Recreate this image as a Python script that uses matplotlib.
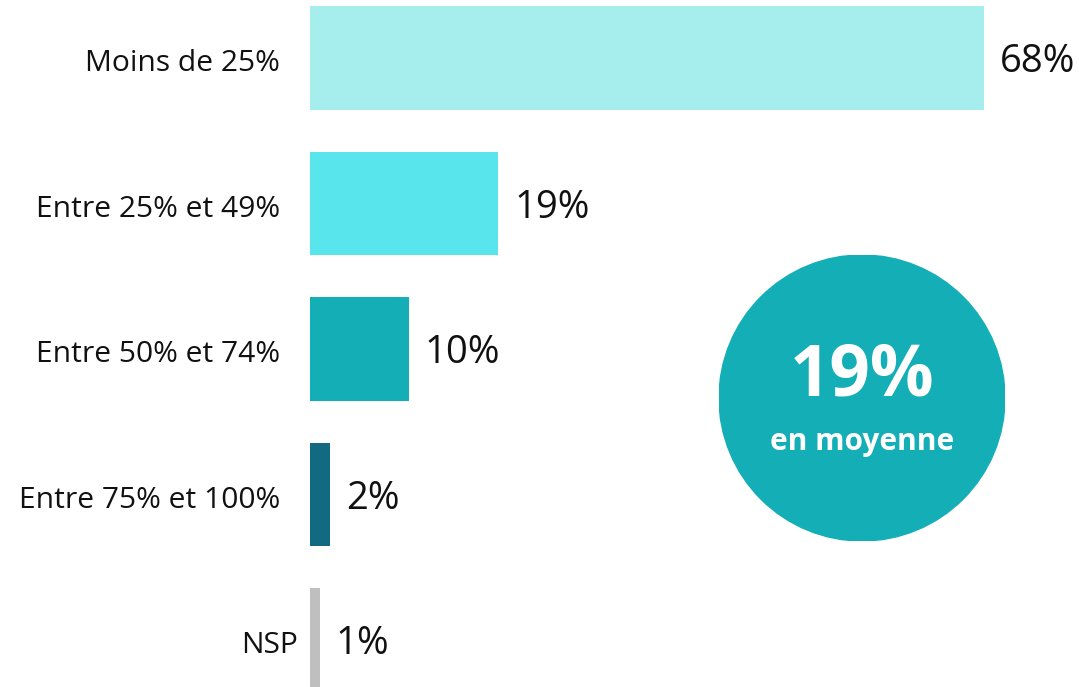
import matplotlib
matplotlib.use("Agg")
import matplotlib.pyplot as plt
from matplotlib.patches import Circle

plt.rcParams['font.family'] = ['Open Sans', 'DejaVu Sans']

categories = ["Moins de 25%", "Entre 25% et 49%", "Entre 50% et 74%", "Entre 75% et 100%", "NSP"]
values = [68, 19, 10, 2, 1]
colors = ["#A6EDED", "#58E5EC", "#14AEB7", "#126A82", "#BFBFBF"]
average_label = "19%"
average_sub = "en moyenne"

W, H = 1079, 687
fig = plt.figure(figsize=(W / 100, H / 100), dpi=100)

# bar area: starts at x=310px, ~9.91 px per percent
left_px = 310
ax = fig.add_axes([left_px / W, 0, 1 - left_px / W, 1])
ax.set_xlim(0, (W - left_px) / 9.91)
ax.set_ylim(4.323, -0.399)
y = list(range(len(categories)))
ax.barh(y, values, height=0.71, color=colors)

for yi, v in zip(y, values):
    ax.text(v + 1.6, yi + 0.03, f"{v}%", va="center", ha="left", fontsize=27.5, color="#111111")
for yi, c in zip(y, categories):
    # the NSP label sits closer to its (thin) bar in the original
    off = -1.2 if c == "NSP" else -3.0
    ax.text(off, yi + 0.04, c, va="center", ha="right", fontsize=21.6, color="#111111")
ax.axis("off")

# average bubble
cx, cy, r = 862, 398, 143
cax = fig.add_axes([(cx - r) / W, (H - cy - r) / H, 2 * r / W, 2 * r / H])
cax.set_xlim(0, 1)
cax.set_ylim(0, 1)
cax.add_patch(Circle((0.5, 0.5), 0.5, color="#14AEB7"))
cax.text(0.5, 0.575, average_label, ha="center", va="center", fontsize=51,
         fontweight="bold", color="white")
cax.text(0.5, 0.345, average_sub, ha="center", va="center", fontsize=21.5,
         fontweight="bold", color="white")
cax.axis("off")

fig.savefig("out.png", dpi=100)
